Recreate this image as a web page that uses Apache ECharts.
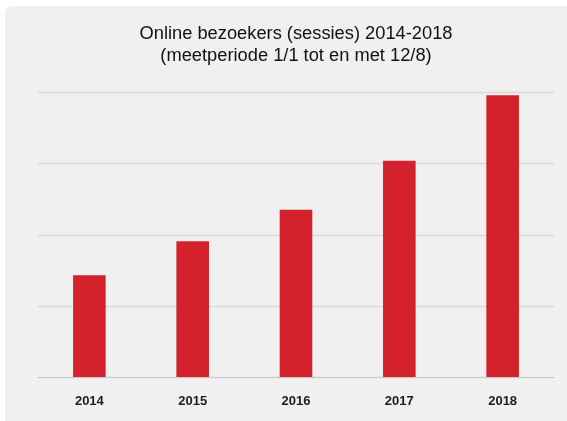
<!DOCTYPE html>
<html>
	<head>
		<meta charset="utf-8" />
		<script src="https://cdn.jsdelivr.net/npm/echarts@6/dist/echarts.min.js"></script>
		<title>Online bezoekers</title>
		<style>
			* {
				margin: 0;
				padding: 0;
			}
			html, body {
				width: 567px;
				height: 421px;
				background: #ffffff;
				overflow: hidden;
			}
			#chart {
				position: absolute;
				left: 5px;
				top: 6px;
				width: 582px;
				height: 425px;
				background: #f0f0f0;
				border-radius: 7px;
			}
		</style>
	</head>
	<body>
		<div id="chart"></div>
		<script>
			// jaren op de x-as
			var years = ['2014', '2015', '2016', '2017', '2018'];
			// sessies (relatieve eenheden, geen schaal in de grafiek)
			var sessions = [1.43, 1.91, 2.35, 3.04, 3.96];
			var yMax = 4;
			var yStep = 1;

			var chart = echarts.init(document.getElementById('chart'));
			chart.setOption({
				animation: false,
				title: {
					text: 'Online bezoekers (sessies) 2014-2018\n(meetperiode 1/1 tot en met 12/8)',
					left: 'center',
					top: 17.5,
					padding: 0,
					textStyle: {
						color: '#111111',
						fontSize: 18.3,
						fontWeight: 'normal',
						fontFamily: 'Liberation Sans',
						lineHeight: 21.5
					}
				},
				grid: {
					left: 32.7,
					right: 32.7,
					top: 86.5,
					bottom: 54
				},
				xAxis: {
					type: 'category',
					data: years,
					axisTick: { show: false },
					axisLine: { lineStyle: { color: '#cacaca', width: 1.2 } },
					axisLabel: {
						margin: 18,
						color: '#1c1c1c',
						fontSize: 13,
						fontWeight: 'bold',
						fontFamily: 'Liberation Sans'
					}
				},
				yAxis: {
					type: 'value',
					min: 0,
					max: yMax,
					interval: yStep,
					axisLabel: { show: false },
					axisLine: { show: false },
					axisTick: { show: false },
					splitLine: { lineStyle: { color: '#d9d9d9', width: 1.3 } }
				},
				series: [{
					type: 'bar',
					data: sessions,
					barWidth: 32.6,
					itemStyle: { color: '#d3222b' }
				}]
			});
		</script>
	</body>
</html>
